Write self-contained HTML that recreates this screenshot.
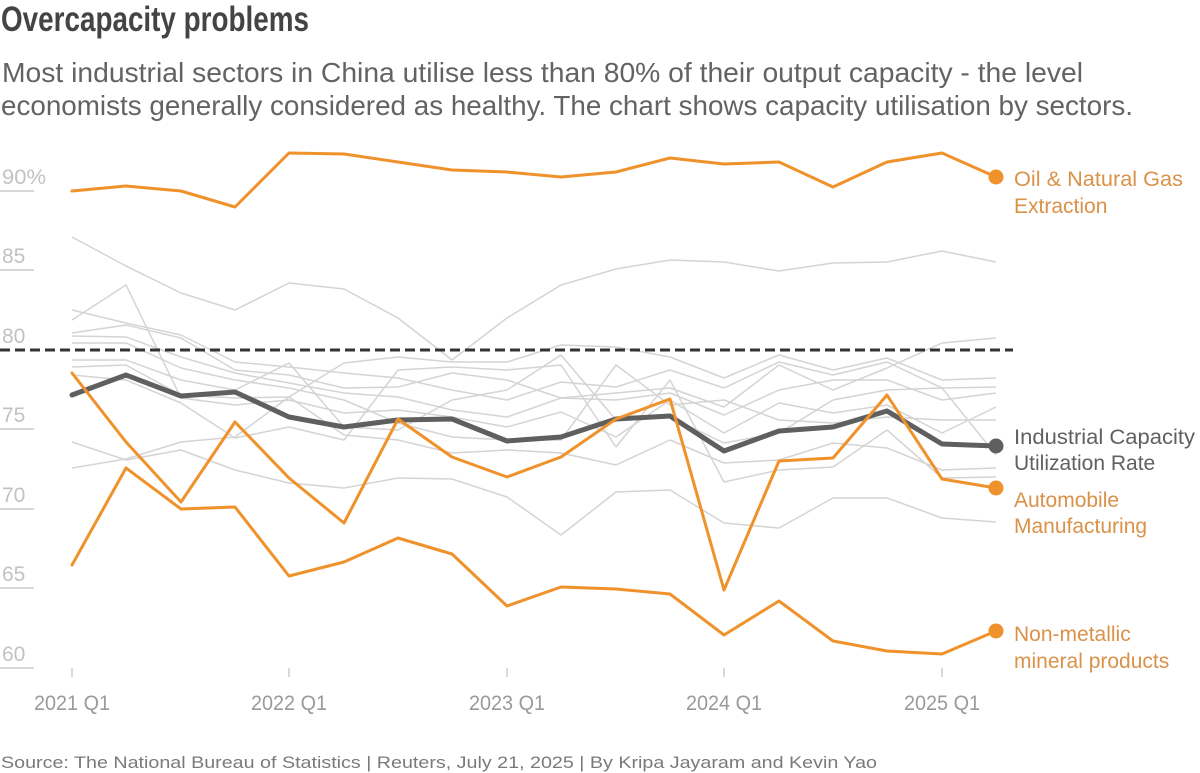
<!DOCTYPE html>
<html>
<head>
<meta charset="utf-8">
<style>
  html, body { margin: 0; padding: 0; background: #ffffff; }
  body { width: 1200px; height: 773px; overflow: hidden; }
  svg { display: block; font-family: "Liberation Sans", "DejaVu Sans", sans-serif; }
</style>
</head>
<body>
<svg width="1200" height="773" viewBox="0 0 1200 773" xmlns="http://www.w3.org/2000/svg">
  <rect x="0" y="0" width="1200" height="773" fill="#ffffff"/>

  <!-- Title & subtitle -->
  <text x="1" y="31" font-size="35" font-weight="bold" fill="#444444" textLength="308" lengthAdjust="spacingAndGlyphs">Overcapacity problems</text>
  <text x="2" y="82" font-size="28" fill="#636363" textLength="1081" lengthAdjust="spacingAndGlyphs">Most industrial sectors in China utilise less than 80% of their output capacity - the level</text>
  <text x="1" y="115" font-size="28" fill="#636363" textLength="1132" lengthAdjust="spacingAndGlyphs">economists generally considered as healthy. The chart shows capacity utilisation by sectors.</text>

  <!-- Y axis labels and short gridline stubs -->
  <g font-size="21" fill="#c2c2c2">
    <text x="2" y="184" textLength="44" lengthAdjust="spacingAndGlyphs">90%</text>
    <text x="2" y="263">85</text>
    <text x="2" y="343">80</text>
    <text x="2" y="422">75</text>
    <text x="2" y="502">70</text>
    <text x="2" y="581">65</text>
    <text x="2" y="661">60</text>
  </g>
  <g stroke="#cccccc" stroke-width="1.5">
    <line x1="0" y1="191" x2="34" y2="191"/>
    <line x1="0" y1="270" x2="34" y2="270"/>
    <line x1="0" y1="429" x2="34" y2="429"/>
    <line x1="0" y1="509" x2="34" y2="509"/>
    <line x1="0" y1="588" x2="34" y2="588"/>
    <line x1="0" y1="668" x2="34" y2="668"/>
  </g>

  <!-- X ticks and labels -->
  <g stroke="#cccccc" stroke-width="1.5">
    <line x1="72" y1="668" x2="72" y2="677"/>
    <line x1="289" y1="668" x2="289" y2="677"/>
    <line x1="507" y1="668" x2="507" y2="677"/>
    <line x1="724" y1="668" x2="724" y2="677"/>
    <line x1="942" y1="668" x2="942" y2="677"/>
  </g>
  <g font-size="21" fill="#9a9a9a" text-anchor="middle">
    <text x="72" y="710" textLength="76" lengthAdjust="spacingAndGlyphs">2021 Q1</text>
    <text x="289" y="710" textLength="76" lengthAdjust="spacingAndGlyphs">2022 Q1</text>
    <text x="507" y="710" textLength="76" lengthAdjust="spacingAndGlyphs">2023 Q1</text>
    <text x="724" y="710" textLength="76" lengthAdjust="spacingAndGlyphs">2024 Q1</text>
    <text x="942" y="710" textLength="76" lengthAdjust="spacingAndGlyphs">2025 Q1</text>
  </g>

  <!-- Grey sector lines -->
  <g fill="none" stroke="#d4d4d4" stroke-width="1.5" stroke-linejoin="round">
    <polyline points="72,237 126,266 181,293 235,310 289,283 344,289 398,318 452,360 507,318 561,285 616,269 670,260 724,262 779,271 833,263 887,262 942,251 996,262"/>
    <polyline points="72,442 126,460 181,450 235,470 289,483 344,488 398,478 452,479 507,497 561,535 616,492 670,490 724,523 779,528 833,498 887,498 942,518 996,522"/>
    <polyline points="72,468 126,459 181,442 235,437 289,397 344,363 398,357 452,362 507,362 561,345 616,347 670,357 724,378 779,355 833,370 887,358 942,380 996,378"/>
    <polyline points="72,320 126,285 181,398 235,405 289,400 344,413 398,410 452,417 507,427 561,412 616,437 670,400 724,433 779,403 833,413 887,405 942,433 996,407"/>
    <polyline points="72,310 126,323 181,335 235,362 289,367 344,373 398,378 452,390 507,400 561,382 616,387 670,370 724,388 779,362 833,375 887,362 942,388 996,387"/>
    <polyline points="72,333 126,325 181,338 235,370 289,375 344,388 398,387 452,373 507,380 561,398 616,393 670,388 724,407 779,365 833,390 887,368 942,343 996,338"/>
    <polyline points="72,336 126,337 181,357 235,373 289,383 344,393 398,397 452,410 507,417 561,398 616,400 670,393 724,415 779,390 833,380 887,380 942,400 996,393"/>
    <polyline points="72,343 126,343 181,368 235,380 289,388 344,400 398,423 452,437 507,440 561,440 616,365 670,405 724,400 779,420 833,423 887,417 942,420 996,420"/>
    <polyline points="72,360 126,360 181,380 235,390 289,363 344,427 398,430 452,400 507,390 561,355 616,420 670,417 724,443 779,433 833,400 887,390 942,388 996,455"/>
    <polyline points="72,367 126,365 181,395 235,398 289,397 344,435 398,440 452,453 507,450 561,453 616,465 670,440 724,463 779,460 833,443 887,448 942,470 996,468"/>
    <polyline points="72,375 126,380 181,403 235,438 289,427 344,440 398,370 452,367 507,370 561,365 616,447 670,380 724,482 779,470 833,467 887,430 942,478 996,477"/>
  </g>

  <!-- 80% reference dashed line -->
  <line x1="0" y1="350" x2="1013" y2="350" stroke="#333333" stroke-width="3" stroke-dasharray="10 5"/>

  <!-- Industrial Capacity Utilization Rate -->
  <polyline fill="none" stroke="#5f5f5f" stroke-width="5" stroke-linejoin="round" stroke-linecap="round"
    points="72,395 126,375 181,396 235,392 289,417 344,427 398,420 452,419 507,441 561,437 616,419 670,416 724,451 779,431 833,427 887,411 942,444 996,446"/>
  <circle cx="996" cy="446" r="7.5" fill="#5f5f5f"/>

  <!-- Orange highlighted sectors -->
  <g fill="none" stroke="#f0922b" stroke-width="3" stroke-linejoin="round" stroke-linecap="round">
    <polyline points="72,191 126,186 181,191 235,207 289,153 344,154 398,162 452,170 507,172 561,177 616,172 670,158 724,164 779,162 833,187 887,162 942,153 996,177"/>
    <polyline points="72,373 126,442 181,502 235,422 289,478 344,523 398,419 452,457 507,477 561,457 616,419 670,399 724,590 779,461 833,458 887,395 942,479 996,488"/>
    <polyline points="72,565 126,468 181,509 235,507 289,576 344,562 398,538 452,554 507,606 561,587 616,589 670,594 724,635 779,601 833,641 887,651 942,654 996,631"/>
  </g>
  <circle cx="996" cy="177" r="7.5" fill="#f0922b"/>
  <circle cx="996" cy="488" r="7.5" fill="#f0922b"/>
  <circle cx="996" cy="631" r="7.5" fill="#f0922b"/>

  <!-- Right-side labels -->
  <g font-size="21" fill="#da9148">
    <text x="1014" y="186" textLength="169" lengthAdjust="spacingAndGlyphs">Oil &amp; Natural Gas</text>
    <text x="1014" y="213">Extraction</text>
    <text x="1014" y="507">Automobile</text>
    <text x="1014" y="533">Manufacturing</text>
    <text x="1014" y="641">Non-metallic</text>
    <text x="1014" y="668">mineral products</text>
  </g>
  <g font-size="21" fill="#606060">
    <text x="1014" y="444" textLength="181" lengthAdjust="spacingAndGlyphs">Industrial Capacity</text>
    <text x="1014" y="470">Utilization Rate</text>
  </g>

  <!-- Footer -->
  <text x="1" y="768" font-size="17" fill="#7a7a7a" textLength="876" lengthAdjust="spacingAndGlyphs">Source: The National Bureau of Statistics | Reuters, July 21, 2025 | By Kripa Jayaram and Kevin Yao</text>
</svg>
</body>
</html>
